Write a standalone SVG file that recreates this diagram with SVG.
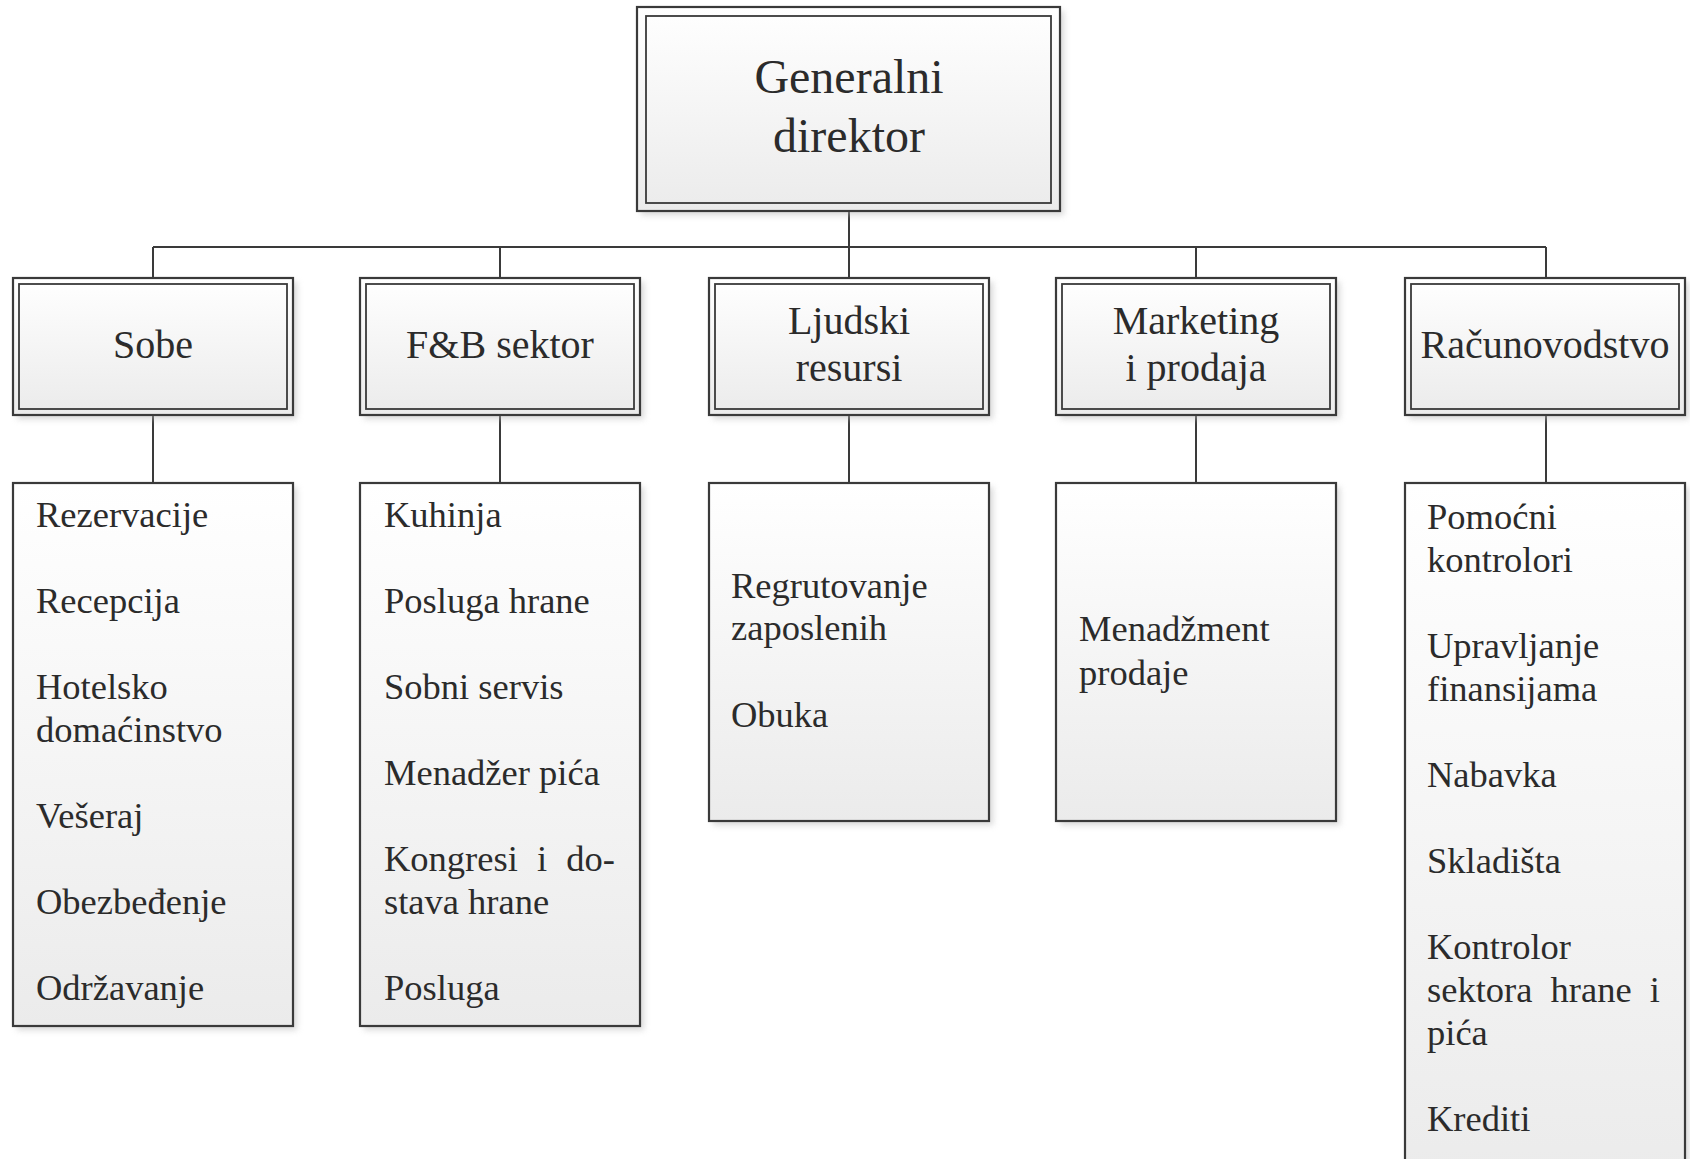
<svg xmlns="http://www.w3.org/2000/svg" width="1690" height="1159" viewBox="0 0 1690 1159">
<defs>
<linearGradient id="fill" x1="0" y1="0" x2="0" y2="1">
<stop offset="0" stop-color="#ffffff"/>
<stop offset="1" stop-color="#ebebeb"/>
</linearGradient>
<filter id="sh" x="-10%" y="-10%" width="130%" height="130%">
<feGaussianBlur stdDeviation="3"/>
</filter>
</defs>
<style>
.sh{fill:#b8b8b8;opacity:0.55;filter:url(#sh)}
.o{fill:url(#fill);stroke:#3a3a3a;stroke-width:2.2}
.i{fill:none;stroke:#3a3a3a;stroke-width:1.8}
.c{fill:none;stroke:#3a3a3a;stroke-width:2}
.t1{font-family:"Liberation Serif","Times New Roman",serif;font-size:48px;fill:#2b2b2b;text-anchor:middle}
.t2{font-family:"Liberation Serif","Times New Roman",serif;font-size:40px;fill:#2b2b2b;text-anchor:middle}
.t3{font-family:"Liberation Serif","Times New Roman",serif;font-size:36.5px;fill:#2b2b2b}
</style>
<g id="connectors">
<path class="c" d="M849 211V247M153 247H1546M153 247V278M500 247V278M849 247V278M1196 247V278M1546 247V278"/>
<path class="c" d="M153 415V483M500 415V483M849 415V483M1196 415V483M1546 415V483"/>
</g>
<g id="generalni-direktor">
<rect class="sh" x="641" y="11" width="423" height="204"/>
<rect class="o" x="637" y="7" width="423" height="204"/>
<rect class="i" x="646" y="16" width="405" height="187"/>
<text class="t1" x="849" y="93">Generalni</text>
<text class="t1" x="849" y="152">direktor</text>
</g>
<g id="sobe">
<rect class="sh" x="17" y="282" width="280" height="137"/>
<rect class="o" x="13" y="278" width="280" height="137"/>
<rect class="i" x="19" y="284" width="268" height="125"/>
<text class="t2" x="153" y="358">Sobe</text>
</g>
<g id="fb-sektor">
<rect class="sh" x="364" y="282" width="280" height="137"/>
<rect class="o" x="360" y="278" width="280" height="137"/>
<rect class="i" x="366" y="284" width="268" height="125"/>
<text class="t2" x="500" y="358">F&amp;B sektor</text>
</g>
<g id="ljudski-resursi">
<rect class="sh" x="713" y="282" width="280" height="137"/>
<rect class="o" x="709" y="278" width="280" height="137"/>
<rect class="i" x="715" y="284" width="268" height="125"/>
<text class="t2" x="849" y="334">Ljudski</text>
<text class="t2" x="849" y="381">resursi</text>
</g>
<g id="marketing">
<rect class="sh" x="1060" y="282" width="280" height="137"/>
<rect class="o" x="1056" y="278" width="280" height="137"/>
<rect class="i" x="1062" y="284" width="268" height="125"/>
<text class="t2" x="1196" y="334">Marketing</text>
<text class="t2" x="1196" y="381">i prodaja</text>
</g>
<g id="racunovodstvo">
<rect class="sh" x="1409" y="282" width="280" height="137"/>
<rect class="o" x="1405" y="278" width="280" height="137"/>
<rect class="i" x="1411" y="284" width="268" height="125"/>
<text class="t2" x="1545" y="358">Računovodstvo</text>
</g>
<g id="sobe-list">
<rect class="sh" x="17" y="487" width="280" height="543"/>
<rect class="o" x="13" y="483" width="280" height="543"/>
<text class="t3" x="36" y="527">Rezervacije</text>
<text class="t3" x="36" y="613">Recepcija</text>
<text class="t3" x="36" y="699">Hotelsko</text>
<text class="t3" x="36" y="742">domaćinstvo</text>
<text class="t3" x="36" y="828">Vešeraj</text>
<text class="t3" x="36" y="914">Obezbeđenje</text>
<text class="t3" x="36" y="1000">Održavanje</text>
</g>
<g id="fb-list">
<rect class="sh" x="364" y="487" width="280" height="543"/>
<rect class="o" x="360" y="483" width="280" height="543"/>
<text class="t3" x="384" y="527">Kuhinja</text>
<text class="t3" x="384" y="613">Posluga hrane</text>
<text class="t3" x="384" y="699">Sobni servis</text>
<text class="t3" x="384" y="785">Menadžer pića</text>
<text class="t3" x="384" y="871" word-spacing="10">Kongresi i do-</text>
<text class="t3" x="384" y="914">stava hrane</text>
<text class="t3" x="384" y="1000">Posluga</text>
</g>
<g id="ljudski-list">
<rect class="sh" x="713" y="487" width="280" height="338"/>
<rect class="o" x="709" y="483" width="280" height="338"/>
<text class="t3" x="731" y="598">Regrutovanje</text>
<text class="t3" x="731" y="640">zaposlenih</text>
<text class="t3" x="731" y="727">Obuka</text>
</g>
<g id="marketing-list">
<rect class="sh" x="1060" y="487" width="280" height="338"/>
<rect class="o" x="1056" y="483" width="280" height="338"/>
<text class="t3" x="1079" y="641">Menadžment</text>
<text class="t3" x="1079" y="685">prodaje</text>
</g>
<g id="racunovodstvo-list">
<rect class="sh" x="1409" y="487" width="280" height="700"/>
<rect class="o" x="1405" y="483" width="280" height="700"/>
<text class="t3" x="1427" y="529">Pomoćni</text>
<text class="t3" x="1427" y="572">kontrolori</text>
<text class="t3" x="1427" y="658">Upravljanje</text>
<text class="t3" x="1427" y="701">finansijama</text>
<text class="t3" x="1427" y="787">Nabavka</text>
<text class="t3" x="1427" y="873">Skladišta</text>
<text class="t3" x="1427" y="959">Kontrolor</text>
<text class="t3" x="1427" y="1002" word-spacing="9">sektora hrane i</text>
<text class="t3" x="1427" y="1045">pića</text>
<text class="t3" x="1427" y="1131">Krediti</text>
</g>
</svg>
